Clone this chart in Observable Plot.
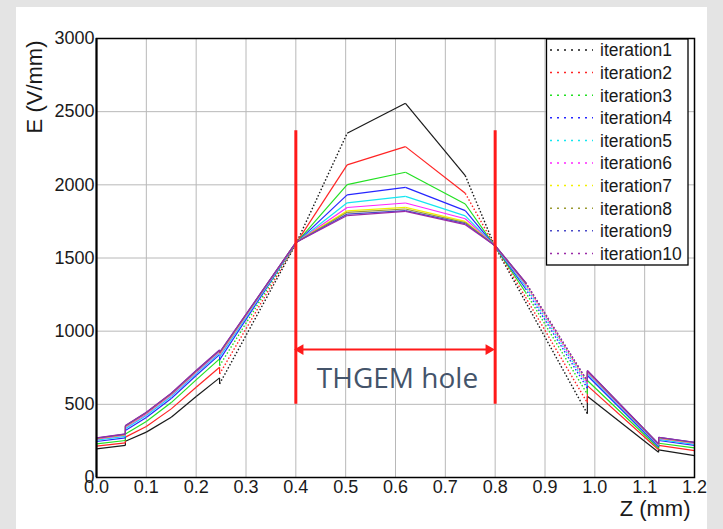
<!DOCTYPE html>
<html><head><meta charset="utf-8">
<script src="https://cdn.jsdelivr.net/npm/d3@7"></script>
<script src="https://cdn.jsdelivr.net/npm/@observablehq/plot@0.6"></script>
<style>
body{margin:0;background:#e4e4e4;}
#wrap{position:relative;width:723px;height:529px;overflow:hidden;}
#panel{position:absolute;left:16px;top:7px;width:691px;height:522px;background:#fff;}
#chart{position:absolute;left:0;top:0;}
#legend{position:absolute;left:0;top:0;}
</style></head><body>
<div id="wrap"><div id="panel"></div><div id="chart"></div><svg id="legend" width="723" height="529"></svg></div>
<script>
// Z positions (mm) of the read vertices (repeated values = vertical jumps)
const z = [0, 0.058, 0.058, 0.1, 0.15, 0.2, 0.247, 0.247, 0.4, 0.503, 0.62, 0.74, 0.8, 0.861, 0.985, 0.985, 1.128, 1.128, 1.2];
// E (V/mm) per iteration
const iter1  = [196, 219, 248, 310, 412, 553, 681, 640, 1595, 2352, 2557, 2063, 1575, 1200, 435, 555, 173, 189, 150];
const iter2  = [214, 237, 276, 348, 469, 617, 753, 708, 1598, 2136, 2261, 1942, 1577, 1232, 510, 628, 190, 219, 184];
const iter3  = [230, 253, 298, 383, 512, 667, 811, 765, 1600, 2001, 2086, 1869, 1578, 1266, 570, 663, 200, 234, 203];
const iter4  = [246, 271, 321, 410, 540, 697, 840, 804, 1602, 1931, 1983, 1824, 1580, 1290, 610, 697, 210, 253, 219];
const iter5  = [255, 281, 334, 424, 554, 710, 852, 824, 1603, 1877, 1921, 1788, 1581, 1307, 629, 710, 218, 261, 227];
const iter6  = [262, 289, 343, 433, 563, 719, 861, 838, 1605, 1845, 1876, 1768, 1583, 1319, 642, 719, 223, 267, 233];
const iter7  = [267, 293, 349, 440, 570, 725, 867, 847, 1605, 1822, 1846, 1750, 1584, 1327, 652, 725, 227, 271, 237];
const iter8  = [268, 295, 352, 442, 572, 728, 869, 851, 1606, 1812, 1835, 1742, 1584, 1330, 655, 728, 228, 273, 239];
const iter9  = [270, 297, 354, 445, 575, 730, 871, 854, 1606, 1800, 1824, 1735, 1584, 1332, 658, 730, 229, 274, 240];
const iter10 = [271, 298, 355, 446, 576, 731, 872, 856, 1606, 1790, 1819, 1728, 1584, 1334, 660, 731, 230, 275, 241];

const seriesNames = ["iteration1","iteration2","iteration3","iteration4","iteration5","iteration6","iteration7","iteration8","iteration9","iteration10"];
const seriesColors = ["#1a1a1a","#ff2424","#22e022","#2626ff","#14e6f0","#ff26ff","#f2f000","#9a9a30","#4a4ac8","#9a2aa8"];
const xTicks = [0, 0.1, 0.2, 0.3, 0.4, 0.5, 0.6, 0.7, 0.8, 0.9, 1.0, 1.1, 1.2];
const yTicks = [0, 500, 1000, 1500, 2000, 2500, 3000];

// annotation (data coordinates)
const holeEdges = [0.4, 0.8];
const holeSpan = [500, 2370];
const arrowEnds = [0.409, 0.787];
const arrowLevel = 874;
const holeLabel = ["THGEM hole"];
const holeLabelPos = [0.604, 676];

const allSeries = [iter1, iter2, iter3, iter4, iter5, iter6, iter7, iter8, iter9, iter10];

const lineMarks = [];
allSeries.forEach((vals, s) => {
  const segs = [];
  for (let i = 0; i < z.length - 1; i++) {
    const dz = z[i + 1] - z[i], dE = vals[i + 1] - vals[i];
    segs.push({name: seriesNames[s], x1: z[i], x2: z[i + 1], y1: vals[i], y2: vals[i + 1],
      steep: dz > 0 && Math.abs(dE / dz) > 5300});
  }
  lineMarks.push(Plot.link(segs.filter(d => !d.steep), {x1: "x1", y1: "y1", x2: "x2", y2: "y2", stroke: "name", strokeWidth: 1.2}));
  lineMarks.push(Plot.link(segs.filter(d => d.steep), {x1: "x1", y1: "y1", x2: "x2", y2: "y2", stroke: "name", strokeWidth: 1.4, strokeDasharray: "1.5,2"}));
});

const plot = Plot.plot({
  width: 723, height: 529,
  marginLeft: 96, marginRight: 29, marginTop: 38, marginBottom: 52,
  style: {background: "transparent", fontFamily: "'Liberation Sans', Arial, sans-serif", color: "#1a1a1a"},
  x: {domain: [0, 1.2]},
  y: {domain: [0, 3000]},
  color: {domain: seriesNames, range: seriesColors},
  marks: [
    Plot.gridX(xTicks, {stroke: "#b8b8b8", strokeOpacity: 1, strokeWidth: 1}),
    Plot.gridY(yTicks, {stroke: "#b8b8b8", strokeOpacity: 1, strokeWidth: 1}),
    Plot.axisX(xTicks, {tickSize: 0, tickPadding: 3, fontSize: 18, tickFormat: d => d.toFixed(1), label: null}),
    Plot.axisY(yTicks, {tickSize: 0, tickPadding: 2, fontSize: 18, tickFormat: d => String(d), label: null}),
    ...lineMarks,
    Plot.ruleX(holeEdges, {y1: holeSpan[0], y2: holeSpan[1], stroke: "#ff1a1a", strokeWidth: 3}),
    Plot.link([arrowEnds], {x1: d => d[0], x2: d => d[1], y1: () => arrowLevel, y2: () => arrowLevel, stroke: "#ff1a1a", strokeWidth: 2}),
    Plot.dot(arrowEnds, {x: d => d, y: () => arrowLevel, symbol: "triangle", rotate: (d, i) => i === 0 ? -90 : 90, fill: "#ff1a1a", stroke: "none", r: 4}),
    Plot.text(holeLabel, {x: () => holeLabelPos[0], y: () => holeLabelPos[1], fontSize: 28, fill: "#44546a", fontFamily: "'Open Sans', 'Noto Sans', sans-serif"}),
    Plot.frame({stroke: "#000", strokeWidth: 1.5}),
    Plot.ruleX([0], {stroke: "#000", strokeWidth: 2}),
    Plot.text(["E (V/mm)"], {frameAnchor: "top-left", dx: -70, dy: 2, rotate: -90, textAnchor: "end", fontSize: 22, fill: "#1a1a1a"}),
    Plot.text(["Z (mm)"], {frameAnchor: "bottom-right", dx: -4, dy: 38, textAnchor: "end", fontSize: 22, fill: "#1a1a1a"})
  ]
});
document.getElementById("chart").appendChild(plot);

// legend box (top-right inside the frame)
const lg = d3.select("#legend");
lg.append("rect").attr("x", 546.5).attr("y", 39).attr("width", 141.5).attr("height", 226)
  .attr("fill", "#fff").attr("stroke", "#000").attr("stroke-width", 1.3);
seriesNames.forEach((n, i) => {
  const y = 50 + i * 22.6;
  lg.append("line").attr("x1", 550).attr("x2", 593).attr("y1", y).attr("y2", y)
    .attr("stroke", seriesColors[i]).attr("stroke-width", 1.5).attr("stroke-dasharray", "2,5");
  lg.append("text").attr("x", 600).attr("y", y).attr("dy", "0.36em")
    .attr("font-family", "'Liberation Sans', Arial, sans-serif").attr("font-size", 17.5)
    .attr("fill", "#1a1a1a").text(n);
});
</script>
</body></html>
